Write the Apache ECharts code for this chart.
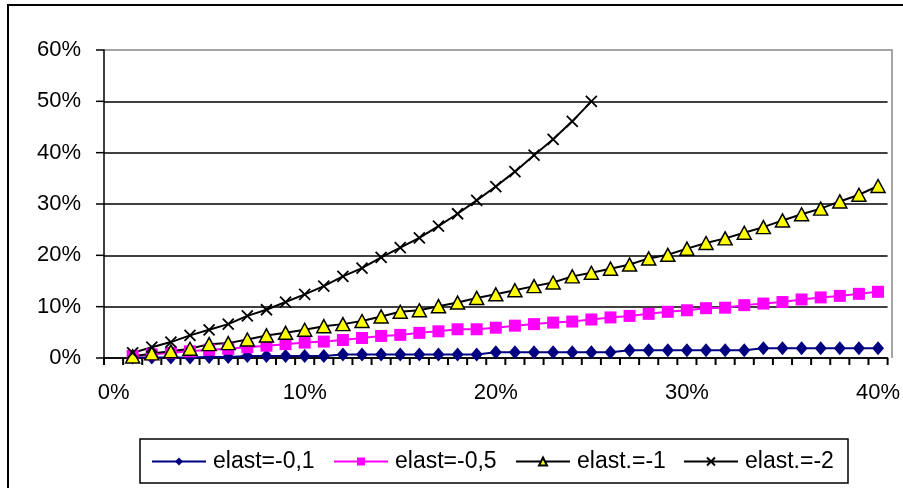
<!DOCTYPE html>
<html>
<head>
<meta charset="utf-8">
<script src="https://cdn.jsdelivr.net/npm/echarts@6/dist/echarts.min.js"></script>
<style>
html,body{margin:0;padding:0;background:#fff;}
#chart{width:903px;height:488px;}
</style>
</head>
<body>
<div id="chart"></div>
<script>
const categories = ['0%','1%','2%','3%','4%','5%','6%','7%','8%','9%','10%',
  '11%','12%','13%','14%','15%','16%','17%','18%','19%','20%',
  '21%','22%','23%','24%','25%','26%','27%','28%','29%','30%',
  '31%','32%','33%','34%','35%','36%','37%','38%','39%','40%'];

const seriesNames = ['elast=-0,1','elast=-0,5','elast.=-1','elast.=-2'];

const elast01 = [null,
  0.001,0.001,0.001,0.001,0.002,0.002,0.004,0.004,0.004,0.004,
  0.004,0.007,0.007,0.007,0.007,0.007,0.007,0.007,0.007,0.011,
  0.011,0.011,0.011,0.011,0.011,0.011,0.015,0.015,0.015,0.015,
  0.015,0.015,0.015,0.019,0.019,0.019,0.019,0.019,0.019,0.019];

const elast05 = [null,
  0.004,0.007,0.010,0.013,0.016,0.018,0.021,0.024,0.027,0.030,
  0.032,0.035,0.039,0.043,0.045,0.049,0.052,0.056,0.056,0.059,
  0.063,0.066,0.069,0.071,0.075,0.079,0.082,0.086,0.090,0.093,
  0.097,0.098,0.103,0.106,0.109,0.114,0.118,0.121,0.125,0.129];

const elast1 = [null,
  0.003,0.009,0.013,0.018,0.027,0.029,0.036,0.044,0.049,0.055,
  0.062,0.066,0.072,0.081,0.090,0.093,0.101,0.108,0.117,0.124,
  0.132,0.140,0.147,0.159,0.166,0.174,0.182,0.194,0.201,0.213,
  0.224,0.233,0.244,0.255,0.268,0.280,0.291,0.305,0.318,0.335];

const elast2 = [null,
  0.010,0.021,0.031,0.044,0.055,0.066,0.082,0.094,0.109,0.124,
  0.140,0.159,0.175,0.196,0.215,0.234,0.257,0.281,0.307,0.334,
  0.363,0.395,0.426,0.461,0.500,null,null,null,null,null,
  null,null,null,null,null,null,null,null,null,null];

const yMin = 0, yMax = 0.6, yStep = 0.1;

const FONT = 'Liberation Sans';
const chart = echarts.init(document.getElementById('chart'));

const legendLefts = [151, 333, 515, 683];
const legends = seriesNames.map((n, i) => ({
  data: [n],
  left: legendLefts[i],
  top: 450,
  padding: 0,
  itemWidth: 54,
  itemHeight: 10,
  itemGap: 0,
  selectedMode: false,
  textStyle: {fontFamily: FONT, fontSize: 23, color: '#000', lineHeight: 22, padding: [0,0,0,2]}
}));

const G = {left: 104, right: 11, top: 50, bottom: 130};
const W = 903, H = 488;

const baseGraphic = [
  {type:'rect', shape:{x:8, y:5, width:920, height:520}, style:{fill:null, stroke:'#000', lineWidth:2}, silent:true},
  {type:'rect', shape:{x:140, y:439, width:708, height:44}, style:{fill:null, stroke:'#000', lineWidth:1.5}, silent:true},
  {type:'polyline', shape:{points:[[G.left, G.top], [W - G.right, G.top], [W - G.right, H - G.bottom]]},
    style:{fill:null, stroke:'#888', lineWidth:1.5}, silent:true}
];

const option = {
  animation: false,
  backgroundColor: '#fff',
  graphic: baseGraphic,
  legend: legends,
  grid: {left: G.left, right: G.right, top: G.top, bottom: G.bottom},
  xAxis: {
    type: 'category',
    data: categories,
    axisLine: {show: true, lineStyle: {color: '#000', width: 1.5}},
    axisTick: {show: false},
    axisLabel: {interval: 9, margin: 24, fontFamily: FONT, fontSize: 22, color: '#000'}
  },
  yAxis: {
    type: 'value',
    min: yMin, max: yMax, interval: yStep,
    axisLine: {show: true, lineStyle: {color: '#000', width: 1.5}},
    axisTick: {show: false},
    axisLabel: {margin: 23, fontFamily: FONT, fontSize: 22, color: '#000',
      formatter: v => Math.round(v * 100) + '%'},
    splitLine: {show: true, showMaxLine: false, lineStyle: {color: '#000', width: 1.5}}
  },
  series: [
    {name: seriesNames[0], type: 'line', data: elast01, symbol: 'diamond', symbolSize: [12, 14], showAllSymbol: true,
      lineStyle: {color: '#000080', width: 2}, itemStyle: {color: '#000080'}},
    {name: seriesNames[1], type: 'line', data: elast05, symbol: 'rect', symbolSize: 12, showAllSymbol: true,
      lineStyle: {color: '#FF00FF', width: 2}, itemStyle: {color: '#FF00FF'}},
    {name: seriesNames[2], type: 'line', data: elast1, symbol: 'triangle', symbolSize: [14, 13], showAllSymbol: true,
      lineStyle: {color: '#000', width: 2}, itemStyle: {color: '#FFFF00', borderColor: '#000', borderWidth: 1.5}},
    {name: seriesNames[3], type: 'line', data: elast2, symbol: 'path://M0,0L10,10M10,0L0,10', symbolSize: 11, showAllSymbol: true,
      lineStyle: {color: '#000', width: 2}, itemStyle: {color: '#000', borderColor: '#000', borderWidth: 1.8}}
  ]
};
chart.setOption(option);

// Axis tick marks, positioned through the chart's own axis scales
const tickGraphic = [];
const c0 = chart.convertToPixel({xAxisIndex: 0}, categories[0]);
const c1 = chart.convertToPixel({xAxisIndex: 0}, categories[1]);
const half = (c1 - c0) / 2;
const yBase = chart.convertToPixel({yAxisIndex: 0}, yMin);
const axisX = c0 - half;
for (let i = 0; i <= categories.length; i++) {
  const bx = c0 - half + i * 2 * half;
  tickGraphic.push({type: 'line', shape: {x1: bx, y1: yBase, x2: bx, y2: yBase + 7},
    style: {stroke: '#000', lineWidth: 2}, silent: true, z: 10});
}
const nY = Math.round((yMax - yMin) / yStep);
for (let k = 0; k <= nY; k++) {
  const yp = chart.convertToPixel({yAxisIndex: 0}, yMin + k * yStep);
  tickGraphic.push({type: 'line', shape: {x1: axisX - 8, y1: yp, x2: axisX, y2: yp},
    style: {stroke: '#000', lineWidth: 1.5}, silent: true, z: 10});
}
chart.setOption({graphic: baseGraphic.concat(tickGraphic)});
</script>
</body>
</html>
